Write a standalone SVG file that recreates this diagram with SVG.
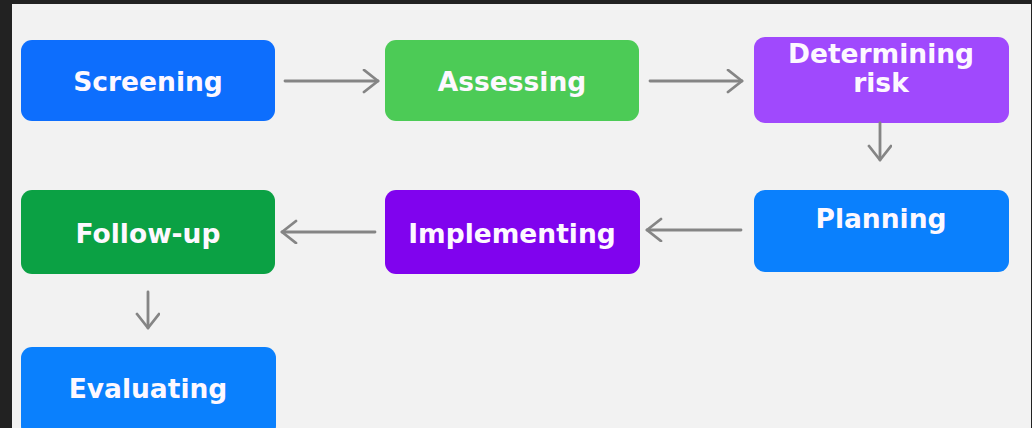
<svg xmlns="http://www.w3.org/2000/svg" width="1032" height="428" viewBox="0 0 1032 428">
<defs>
<style>
.node rect{stroke:none}
.node text{font-family:"DejaVu Sans","Verdana",sans-serif;font-weight:bold;font-size:26.5px;fill:#fdf8ff;text-anchor:middle}
.conn path{fill:none;stroke:#858585;stroke-width:2.8;stroke-linecap:round}
</style>
<marker id="ah" markerUnits="userSpaceOnUse" markerWidth="24" markerHeight="28" refX="16" refY="12" orient="auto" viewBox="0 0 24 28">
<path d="M2,1 L16,12 L2,23" fill="none" stroke="#858585" stroke-width="2.8" stroke-linecap="round" stroke-linejoin="round"/>
</marker>
</defs>
<rect x="0" y="0" width="1032" height="428" fill="#222222"/>
<rect x="12" y="4" width="1019" height="424" fill="#f2f2f2"/>
<g id="screening" class="node"><rect x="21" y="40" width="254" height="81" rx="11" fill="#0d6efd"/><text x="148" y="91">Screening</text></g>
<g id="assessing" class="node"><rect x="385" y="40" width="254" height="81" rx="11" fill="#4ccb56"/><text x="512" y="91">Assessing</text></g>
<g id="determining-risk" class="node"><rect x="754" y="37" width="255" height="86" rx="11" fill="#a049fd"/><text x="881" y="63">Determining</text><text x="881" y="92">risk</text></g>
<g id="planning" class="node"><rect x="754" y="190" width="255" height="82" rx="11" fill="#0a80fd"/><text x="881" y="228">Planning</text></g>
<g id="implementing" class="node"><rect x="385" y="190" width="255" height="84" rx="11" fill="#8003ee"/><text x="512" y="243">Implementing</text></g>
<g id="follow-up" class="node"><rect x="21" y="190" width="254" height="84" rx="11" fill="#0ba144"/><text x="148" y="243">Follow-up</text></g>
<g id="evaluating" class="node"><rect x="21" y="347" width="255" height="90" rx="11" fill="#0a80fd"/><text x="148" y="398">Evaluating</text></g>
<g id="connectors" class="conn">
<path d="M285,81 L378,81" marker-end="url(#ah)"/>
<path d="M650,81 L742,81" marker-end="url(#ah)"/>
<path d="M880,123 L880,160" marker-end="url(#ah)"/>
<path d="M741,230 L647,230" marker-end="url(#ah)"/>
<path d="M375,232 L282,232" marker-end="url(#ah)"/>
<path d="M148,292 L148,328" marker-end="url(#ah)"/>
</g>
</svg>
